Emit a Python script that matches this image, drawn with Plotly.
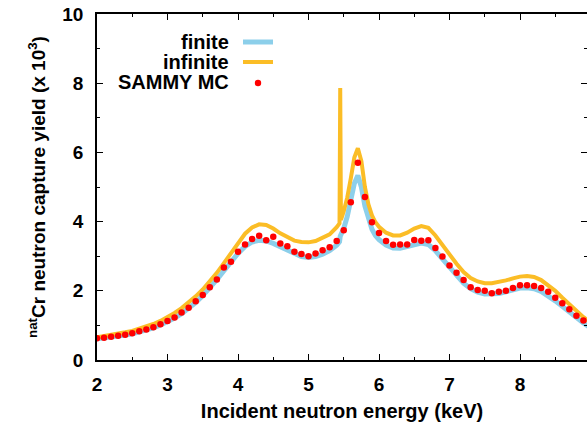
import plotly.graph_objects as go

# ---- data ----
finite_E = [2.0, 2.1, 2.2, 2.3, 2.4, 2.5, 2.6, 2.7, 2.8, 2.9, 3.0, 3.1, 3.2, 3.3, 3.4, 3.5, 3.6, 3.7, 3.8, 3.9,
            4.0, 4.1, 4.2, 4.3, 4.4, 4.5, 4.6, 4.7, 4.8, 4.9, 5.0, 5.1, 5.2, 5.3, 5.4, 5.44, 5.45, 5.5, 5.55,
            5.6, 5.65, 5.7, 5.75, 5.8, 5.85, 5.9, 5.95, 6.0, 6.1, 6.2, 6.3, 6.4, 6.5, 6.6, 6.7, 6.8, 6.9,
            7.0, 7.1, 7.2, 7.3, 7.4, 7.5, 7.6, 7.7, 7.8, 7.9, 8.0, 8.1, 8.2, 8.3, 8.4, 8.5, 8.6, 8.7, 8.8,
            8.9, 9.0]
finite_Y = [0.61, 0.63, 0.66, 0.69, 0.72, 0.76, 0.81, 0.86, 0.93, 1.01, 1.10, 1.21, 1.34, 1.49, 1.66, 1.86,
            2.08, 2.32, 2.58, 2.85, 3.08, 3.28, 3.41, 3.46, 3.44, 3.37, 3.27, 3.16, 3.06, 2.99, 2.96, 2.99,
            3.06, 3.16, 3.32, 3.42, 3.58, 3.80, 4.15, 4.60, 5.10, 5.33, 5.00, 4.45, 4.05, 3.78, 3.60, 3.48,
            3.32, 3.24, 3.23, 3.28, 3.35, 3.38, 3.34, 3.16, 2.92, 2.67, 2.43, 2.22, 2.06, 1.96, 1.91, 1.90,
            1.92, 1.97, 2.03, 2.08, 2.09, 2.06, 1.98, 1.86, 1.71, 1.55, 1.38, 1.22, 1.07, 0.93]

infinite_E = [2.0, 2.1, 2.2, 2.3, 2.4, 2.5, 2.6, 2.7, 2.8, 2.9, 3.0, 3.1, 3.2, 3.3, 3.4, 3.5, 3.6, 3.7, 3.8,
              3.9, 4.0, 4.1, 4.2, 4.3, 4.4, 4.5, 4.6, 4.7, 4.8, 4.9, 5.0, 5.1, 5.2, 5.3, 5.4, 5.44, 5.45,
              5.46, 5.5, 5.55, 5.6, 5.65, 5.7, 5.75, 5.8, 5.85, 5.9, 5.95, 6.0, 6.1, 6.2, 6.3, 6.4, 6.5,
              6.6, 6.7, 6.8, 6.9, 7.0, 7.1, 7.2, 7.3, 7.4, 7.5, 7.6, 7.7, 7.8, 7.9, 8.0, 8.1, 8.2, 8.3,
              8.4, 8.5, 8.6, 8.7, 8.8, 8.9, 9.0]
infinite_Y = [0.66, 0.69, 0.72, 0.76, 0.80, 0.84, 0.90, 0.96, 1.04, 1.13, 1.24, 1.36, 1.50, 1.66, 1.84, 2.04,
              2.27, 2.52, 2.80, 3.10, 3.40, 3.65, 3.83, 3.92, 3.90, 3.80, 3.66, 3.54, 3.45, 3.41, 3.40, 3.44,
              3.52, 3.63, 3.84, 3.95, 7.86, 4.05, 4.30, 4.70, 5.25, 5.85, 6.12, 5.75, 5.00, 4.50, 4.18, 3.98,
              3.85, 3.68, 3.60, 3.60, 3.68, 3.80, 3.87, 3.82, 3.60, 3.32, 3.05, 2.78, 2.54, 2.37, 2.27, 2.22,
              2.22, 2.25, 2.30, 2.36, 2.41, 2.43, 2.40, 2.31, 2.17, 2.00, 1.80, 1.60, 1.41, 1.24, 1.08]

sammy_E = [2.0, 2.1, 2.2, 2.3, 2.4, 2.5, 2.6, 2.7, 2.8, 2.9, 3.0, 3.1, 3.2, 3.3, 3.4, 3.5, 3.6, 3.7, 3.8, 3.9,
           4.0, 4.1, 4.2, 4.3, 4.4, 4.5, 4.6, 4.7, 4.8, 4.9, 5.0, 5.1, 5.2, 5.3, 5.4, 5.5, 5.6, 5.7, 5.8, 5.9,
           6.0, 6.1, 6.2, 6.3, 6.4, 6.5, 6.6, 6.7, 6.8, 6.9, 7.0, 7.1, 7.2, 7.3, 7.4, 7.5, 7.6, 7.7, 7.8, 7.9,
           8.0, 8.1, 8.2, 8.3, 8.4, 8.5, 8.6, 8.7, 8.8, 8.9, 9.0]
sammy_Y = [0.63, 0.64, 0.67, 0.70, 0.73, 0.77, 0.83, 0.88, 0.95, 1.03, 1.13, 1.23, 1.37, 1.51, 1.70, 1.88,
           2.10, 2.33, 2.67, 2.84, 3.13, 3.34, 3.50, 3.59, 3.46, 3.56, 3.37, 3.29, 3.13, 3.06, 3.00, 3.08,
           3.17, 3.26, 3.44, 3.75, 4.56, 5.70, 4.71, 3.98, 3.67, 3.44, 3.33, 3.34, 3.34, 3.47, 3.45, 3.46,
           3.24, 2.99, 2.73, 2.52, 2.31, 2.10, 2.02, 2.00, 1.93, 1.97, 2.00, 2.08, 2.16, 2.16, 2.14, 2.08,
           1.97, 1.80, 1.64, 1.47, 1.28, 1.14, 0.98]

series_names = ["finite", "infinite", "SAMMY MC"]
x_ticks = [2, 3, 4, 5, 6, 7, 8, 9]
y_ticks = [0, 2, 4, 6, 8, 10]

BLUE = "#8ccfea"
ORANGE = "#fbbd26"
RED = "#ff0000"
FONT = "Liberation Sans"

fig = go.Figure()
fig.add_trace(go.Scatter(x=finite_E, y=finite_Y, mode="lines", name=series_names[0],
                         line=dict(color=BLUE, width=5), showlegend=False))
fig.add_trace(go.Scatter(x=infinite_E, y=infinite_Y, mode="lines", name=series_names[1],
                         line=dict(color=ORANGE, width=4), showlegend=False))
fig.add_trace(go.Scatter(x=sammy_E, y=sammy_Y, mode="markers", name=series_names[2],
                         marker=dict(color=RED, size=6.5), showlegend=False, yaxis="y2"))

W, H = 587, 425
L, R, T, B = 97, 0, 14, 65
pw, ph = W - L - R, H - T - B
px_per_unit = 70.5
x_max = 2 + pw / px_per_unit

tickfont = dict(family=FONT, size=19, color="black", weight="bold")
common_minor = dict(ticks="inside", ticklen=3, tickcolor="black", tickwidth=1)

fig.update_layout(
    width=W, height=H,
    margin=dict(l=L, r=R, t=T, b=B, pad=0),
    plot_bgcolor="white", paper_bgcolor="white",
    showlegend=False,
    xaxis=dict(range=[2, x_max], tickvals=x_ticks, ticks="inside", ticklen=6, tickwidth=1,
               tickcolor="black", showline=True, linecolor="black", linewidth=1.5, mirror="ticks",
               showgrid=False, zeroline=False, tickfont=tickfont, ticklabelstandoff=6,
               minor=dict(dtick=0.5, **common_minor),
               title=dict(text="Incident neutron energy (keV)", standoff=10,
                          font=dict(family=FONT, size=20, color="black", weight="bold"))),
    yaxis=dict(range=[0, 10], tickvals=y_ticks, ticks="inside", ticklen=6, tickwidth=1,
               tickcolor="black", showline=True, linecolor="black", linewidth=1.5, mirror=False,
               showgrid=False, zeroline=False, tickfont=tickfont, ticklabelstandoff=8,
               minor=dict(dtick=1, **common_minor),
               title=dict(text="<sup>nat</sup>Cr neutron capture yield (x 10<sup>3</sup>)", standoff=12,
                          font=dict(family=FONT, size=19, color="black", weight="bold"))),
    yaxis2=dict(matches="y", overlaying="y", side="right", tickvals=y_ticks, ticks="inside",
                ticklen=6, tickwidth=1, tickcolor="black", showline=False, showticklabels=False,
                showgrid=False, zeroline=False, minor=dict(dtick=1, **common_minor)),
)

# ---- legend built to match the reference (text right, sample on the right) ----
def px_x(p):
    return (p - L) / pw

def px_y(p):
    return (H - B - p) / ph

legend_rows = [42, 62, 82]
legend_font = dict(family=FONT, size=20, color="black", weight="bold")
for name, row in zip(series_names, legend_rows):
    fig.add_annotation(x=px_x(231), y=px_y(row), xref="paper", yref="paper", text=name,
                       showarrow=False, xanchor="right", yanchor="middle", font=legend_font)
fig.add_shape(type="line", xref="paper", yref="paper", x0=px_x(243), x1=px_x(273),
              y0=px_y(legend_rows[0]), y1=px_y(legend_rows[0]), line=dict(color=BLUE, width=5))
fig.add_shape(type="line", xref="paper", yref="paper", x0=px_x(243), x1=px_x(273),
              y0=px_y(legend_rows[1]), y1=px_y(legend_rows[1]), line=dict(color=ORANGE, width=4))
fig.add_shape(type="circle", xref="paper", yref="paper", xsizemode="pixel", ysizemode="pixel",
              xanchor=px_x(258), yanchor=px_y(legend_rows[2] + 1), x0=-3.2, x1=3.2, y0=-3.2, y1=3.2,
              fillcolor=RED, line=dict(width=0))

fig.write_html("out.html")
